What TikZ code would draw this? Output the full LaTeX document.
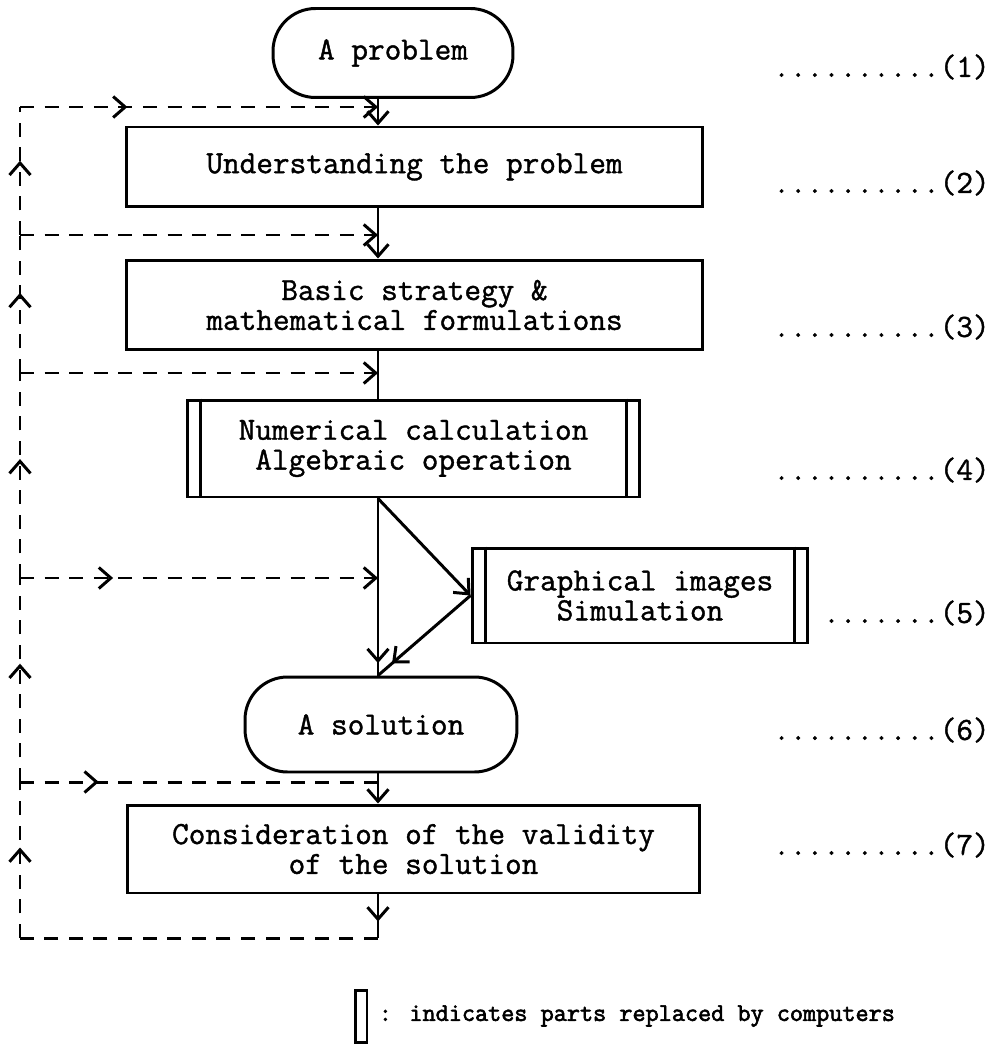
\documentclass[tikz,border=0pt]{standalone}
\usepackage{fontspec}
\usepackage{tikz}
\usetikzlibrary{arrows.meta,calc,decorations.markings}

\newfontfamily\chartfont{Latin Modern Mono}[FakeBold=1.2]
\newfontfamily\keyfont{Latin Modern Mono}[FakeBold=2.4]
\newcommand{\tendots}{..........}
\newcommand{\sevendots}{.......}

\begin{document}
\begin{tikzpicture}
[   x=0.02cm, y=-0.02cm,
    font=\chartfont\fontsize{18.4}{17}\selectfont,
    >={Straight Barb[length=2.4mm,width=4.2mm]},
    flow/.style={draw=black, line width=1.7pt},
    fb/.style={draw=black, line width=1.7pt, dash pattern=on 8pt off 6pt},
    stepbox/.style={draw=black, line width=1.7pt, rectangle, inner sep=0pt, align=center},
    endnode/.style={stepbox, rounded corners=0.85cm},
    tipat/.style={postaction={decorate, decoration={markings, mark=at position #1 with {\arrow{>}}}}},
]
    \useasboundingbox (0,0) rectangle (1000,1047);

    % flow chart
    \node[endnode, minimum width=4.8cm, minimum height=1.78cm] (p1) at (393,53) {A problem};
    \node[stepbox, minimum width=11.54cm, minimum height=1.6cm] (b2) at (414.5,167) {Understanding the problem};
    \node[stepbox, minimum width=11.54cm, minimum height=1.8cm] (b3) at (414.5,305) {Basic strategy \&\\mathematical formulations};
    \node[stepbox, minimum width=9.06cm, minimum height=1.94cm] (b4) at (413.5,448.5) {Numerical calculation\\Algebraic operation};
    \node[stepbox, minimum width=6.72cm, minimum height=1.9cm] (g5) at (640,595.5) {Graphical images\\Simulation};
    \node[endnode, minimum width=5.44cm, minimum height=1.9cm] (s1) at (381,724.5) {A solution};
    \node[stepbox, minimum width=11.46cm, minimum height=1.76cm] (b7) at (413.5,849) {Consideration of the validity\\of the solution};

    % parts done by computers
    \foreach \n in {b4,g5}
    {
        \draw[flow] ([xshift=0.3cm]\n.north west) -- ([xshift=0.3cm]\n.south west);
        \draw[flow] ([xshift=-0.3cm]\n.north east) -- ([xshift=-0.3cm]\n.south east);
    }

    % step numbers
    \foreach \k/\d/\y in {1/\tendots/67, 2/\tendots/183, 3/\tendots/327, 4/\tendots/470, 5/\sevendots/613, 6/\tendots/730, 7/\tendots/845}
        \node[anchor=east, inner sep=0pt] (n\k) at (990,\y) {\d(\k)};

    \coordinate (spine) at (378,0);
    \coordinate (fb0) at (20,938);
    \coordinate (fb1) at (20,782);
    \coordinate (fb2) at (20,578);
    \coordinate (fb3) at (20,373);
    \coordinate (fb4) at (20,235);
    \coordinate (fb5) at (20,107);

    % main line
    \draw[flow,->] (p1.south -| spine) -- (b2.north -| spine);
    \draw[flow,->] (b2.south -| spine) -- (b3.north -| spine);
    \draw[flow] (b3.south -| spine) -- (b4.north -| spine);
    \draw[flow,tipat=0.93] (b4.south -| spine) -- (s1.north -| spine);
    \draw[flow,->] (b4.south -| spine) -- (g5.west);
    \draw[flow,tipat=0.85] (g5.west) -- (s1.north -| spine);
    \draw[flow,->] (s1.south -| spine) -- (b7.north -| spine);
    \draw[flow,tipat=0.62] (b7.south -| spine) -- (fb0 -| spine);

    % feedback
    \draw[fb] (fb0 -| spine) -- (fb0);
    \foreach \a/\b in {fb0/fb1, fb1/fb2, fb2/fb3, fb3/fb4, fb4/fb5}
        \draw[fb,tipat=0.58] (\a) -- (\b);
    \draw[fb,tipat=0.3,->] (fb5) -- (fb5 -| spine);
    \draw[fb,->] (fb4) -- (fb4 -| spine);
    \draw[fb,->] (fb3) -- (fb3 -| spine);
    \draw[fb,tipat=0.26,->] (fb2) -- (fb2 -| spine);
    \draw[fb,tipat=0.22] (fb1) -- (fb1 -| spine);

    % key
    \node[stepbox, minimum width=0.24cm, minimum height=1.04cm] (key) at (361,1016) {};
    \node[anchor=west, inner sep=0pt, font=\keyfont\fontsize{14.5}{14}\selectfont] (keytext) at ([xshift=0.2cm]key.east) {: indicates parts replaced by computers};

\end{tikzpicture}
\end{document}
